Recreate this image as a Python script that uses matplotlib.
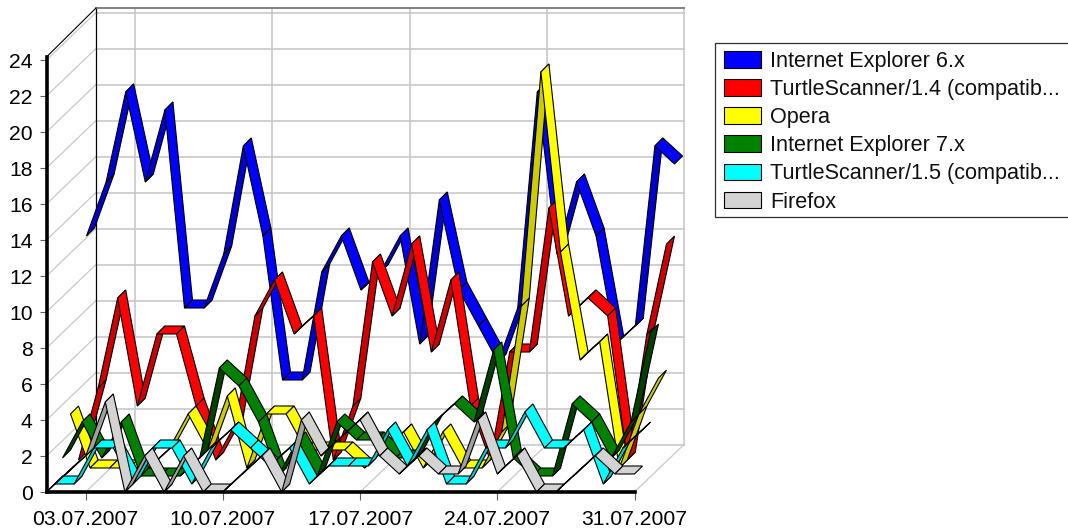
import matplotlib
matplotlib.use("Agg")
import matplotlib.pyplot as plt
from matplotlib.patches import Polygon, Patch, Rectangle

names = ["Internet Explorer 6.x", "TurtleScanner/1.4 (compatib...", "Opera",
         "Internet Explorer 7.x", "TurtleScanner/1.5 (compatib...", "Firefox"]
ie6 = [12,15,20,15,19,8,8,11,17,12,4,4,10,12,9,10,12,6,14,9,7,5,8,20,11,15,12,6,7,17,16]
turtle14 = [0,4,9,3,7,7,3,0,2,8,10,7,8,0,3,11,8,12,6,10,3,0,6,6,14,8,9,8,0,7,12]
opera = [3,0,0,0,0,1,3,1,4,0,3,3,1,1,1,0,1,2,0,2,0,0,2,9,22,12,6,7,0,3,5]
ie7 = [1,3,1,3,0,0,0,1,6,5,3,0,2,0,3,2,2,1,1,3,4,3,7,1,0,0,4,3,1,3,8]
turtle15 = [0,0,2,2,0,2,2,0,2,3,2,1,2,0,1,1,1,3,1,3,0,0,2,2,4,2,2,3,0,2,3]
firefox = [0,1,2,5,0,2,0,2,0,0,1,2,0,4,2,3,4,2,1,2,1,1,4,1,2,0,0,1,2,1,1]
series = [ie6, turtle14, opera, ie7, turtle15, firefox]
bright = ["#0000FF", "#FF0000", "#FFFF00", "#008000", "#00FFFF", "#D3D3D3"]
dark = ["#0000CC", "#CC0000", "#CCCC00", "#004000", "#00CCCC", "#A0A0A0"]
y_ticks = list(range(0, 25, 2))
x_ticks = [2, 9, 16, 23, 30]
x_labels = ["03.07.2007", "10.07.2007", "17.07.2007", "24.07.2007", "31.07.2007"]

W, H = 1068, 532
plt.rcParams["font.family"] = ["Liberation Sans", "DejaVu Sans"]
fig = plt.figure(figsize=(W / 100, H / 100), dpi=100)
L, R, T, B = 46.5, 634.5, 57.0, 492.0
ax = fig.add_axes([L / W, 1 - B / H, (R - L) / W, (B - T) / H])
ax.set_xlim(0, 30)
ax.set_ylim(0, (B - T) / 18.0)
px_x = (R - L) / 30.0
px_y = 18.0


def off(x, y, d):
    return x + d / px_x, y + d / px_y


wall_dx = 49.5 / px_x
wall_dy = 47.5 / px_y
grid = "#C8C8C8"
xmax, ymax = 30, ax.get_ylim()[1]
for v in y_ticks:
    ax.plot([0 + wall_dx, xmax + wall_dx], [v + wall_dy, v + wall_dy], color=grid, lw=1.2, clip_on=False, zorder=1)
    ax.plot([0, wall_dx], [v, v + wall_dy], color=grid, lw=0.9, clip_on=False, zorder=1)
for t in x_ticks:
    ax.plot([t + wall_dx, t + wall_dx], [wall_dy, 24 + wall_dy + 0.2], color=grid, lw=1.2, clip_on=False, zorder=1)
    ax.plot([t, t + wall_dx], [0, wall_dy], color=grid, lw=0.9, clip_on=False, zorder=1)
top = 24.25 + wall_dy
ax.plot([wall_dx, wall_dx], [wall_dy, top], color="black", lw=0.9, clip_on=False, zorder=2)
ax.plot([wall_dx, xmax + wall_dx], [top, top], color="#808080", lw=1.4, clip_on=False, zorder=2)
ax.plot([0, wall_dx], [ymax, top], color="black", lw=0.8, clip_on=False, zorder=2)

layer = 8.0
for k, vals in enumerate(series):
    d0 = (5 - k) * layer
    d1 = d0 + layer
    for i in range(len(vals) - 1):
        a, b = vals[i], vals[i + 1]
        pts = [off(i, a, d0), off(i + 1, b, d0), off(i + 1, b, d1), off(i, a, d1)]
        col = dark[k] if b - a > 1 else bright[k]
        ax.add_patch(Polygon(pts, closed=True, facecolor=col, edgecolor="black", lw=0.8,
                             clip_on=False, zorder=3 + k, joinstyle="miter"))

for s in ("top", "right"):
    ax.spines[s].set_visible(False)
for s in ("left", "bottom"):
    ax.spines[s].set_linewidth(2.6)
    ax.spines[s].set_zorder(20)
ax.set_yticks(y_ticks)
ax.set_xticks(x_ticks)
ax.set_xticklabels(x_labels)
ax.tick_params(axis="both", labelsize=15.2, color="#606060", width=0.8, length=5, pad=5)
ax.tick_params(axis="x", length=6, pad=7)
ax.patch.set_alpha(0)

fig.add_artist(Rectangle((714.5 / W, 1 - 217 / H), 400 / W, 174 / H, transform=fig.transFigure,
                         facecolor="white", edgecolor="#303030", lw=0.9, zorder=0))
handles = [Patch(facecolor=c, edgecolor="black", lw=0.8) for c in bright]
fig.legend(handles, names, loc="upper left", bbox_to_anchor=(716.5 / W, 1 - 43.5 / H), frameon=False,
           fontsize=15.6, handlelength=1.68, handleheight=0.82, handletextpad=0.45,
           labelspacing=0.325, borderpad=0.36, borderaxespad=0, labelcolor="#111111")
fig.savefig("out.png", dpi=100)
